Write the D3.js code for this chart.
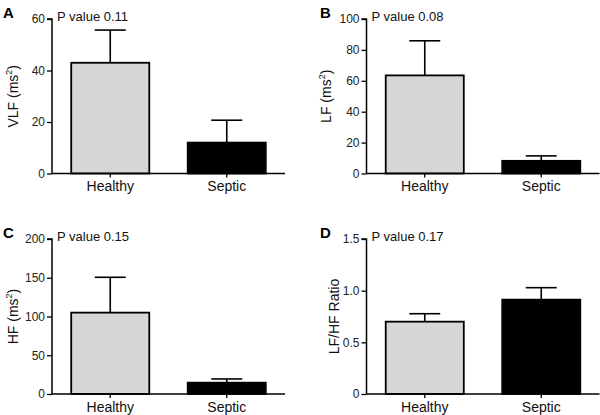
<!DOCTYPE html>
<html>
<head>
<meta charset="utf-8">
<script src="https://cdn.jsdelivr.net/npm/d3@7/dist/d3.min.js"></script>
<style>
  html, body { margin: 0; padding: 0; background: #fff; }
  svg { display: block; font-family: "Liberation Sans", Arial, Helvetica, sans-serif; }
</style>
</head>
<body>
<svg id="chart" width="600" height="415"></svg>
<script>
// ---- data ----
const categories = ["Healthy", "Septic"];
const panelLetters = ["A", "B", "C", "D"];
const pValues = ["P value 0.11", "P value 0.08", "P value 0.15", "P value 0.17"];
const yLabels = ["VLF (ms", "LF (ms", "HF (ms", "LF/HF Ratio"];
const ySuper = ["2", "2", "2", ""];

const vlfMean = [43.0, 12.0];
const vlfSem  = [12.7, 8.7];
const lfMean  = [63.5, 8.2];
const lfSem   = [22.4, 3.2];
const hfMean  = [105, 14.6];
const hfSem   = [45.6, 4.8];
const ratioMean = [0.70, 0.913];
const ratioSem  = [0.077, 0.116];

const vlfTicks = [0, 20, 40, 60];
const lfTicks = [0, 20, 40, 60, 80, 100];
const hfTicks = [0, 50, 100, 150, 200];
const ratioTicks = [0, 0.5, 1.0, 1.5];
const ratioTickLabels = ["0", "0.5", "1.0", "1.5"];

const barColors = ["#d6d6d6", "#000000"];

// ---- layout ----
const panels = [
  { letter: panelLetters[0], p: pValues[0], label: yLabels[0], sup: ySuper[0], mean: vlfMean, sem: vlfSem, ticks: vlfTicks, tickFmt: d => String(d),
    ax: 52, xEnd: 285, top: 19, bottom: 173.5, labX: 18, letX: 3, letY: 18 },
  { letter: panelLetters[1], p: pValues[1], label: yLabels[1], sup: ySuper[1], mean: lfMean, sem: lfSem, ticks: lfTicks, tickFmt: d => String(d),
    ax: 366.5, xEnd: 599.5, top: 19, bottom: 173.5, labX: 331, letX: 320, letY: 18 },
  { letter: panelLetters[2], p: pValues[2], label: yLabels[2], sup: ySuper[2], mean: hfMean, sem: hfSem, ticks: hfTicks, tickFmt: d => String(d),
    ax: 52, xEnd: 285, top: 239, bottom: 394, labX: 18, letX: 3, letY: 238 },
  { letter: panelLetters[3], p: pValues[3], label: yLabels[3], sup: ySuper[3], mean: ratioMean, sem: ratioSem, ticks: ratioTicks, tickFmt: (d, i) => ratioTickLabels[i],
    ax: 366.5, xEnd: 599.5, top: 239, bottom: 394, labX: 339, letX: 320, letY: 238 }
];

const svg = d3.select("#chart");

panels.forEach(P => {
  const g = svg.append("g");
  const yMax = P.ticks[P.ticks.length - 1];
  const y = d3.scaleLinear().domain([0, yMax]).range([P.bottom, P.top]);
  const x = d3.scaleBand().domain(categories).range([P.ax, P.xEnd]).paddingInner(0.33).paddingOuter(0.165);

  const data = categories.map((c, i) => ({ c, m: P.mean[i], s: P.sem[i], i }));

  // error bars (upper only)
  const eb = g.selectAll(".eb").data(data).enter().append("g");
  eb.append("line")
    .attr("x1", d => x(d.c) + x.bandwidth() / 2).attr("x2", d => x(d.c) + x.bandwidth() / 2)
    .attr("y1", d => y(d.m)).attr("y2", d => y(d.m + d.s))
    .attr("stroke", "#000").attr("stroke-width", 1.6);
  eb.append("line")
    .attr("x1", d => x(d.c) + x.bandwidth() / 2 - 15.5).attr("x2", d => x(d.c) + x.bandwidth() / 2 + 15.5)
    .attr("y1", d => y(d.m + d.s)).attr("y2", d => y(d.m + d.s))
    .attr("stroke", "#000").attr("stroke-width", 1.6);

  // bars
  g.selectAll(".bar").data(data).enter().append("rect")
    .attr("x", d => x(d.c))
    .attr("y", d => y(d.m))
    .attr("width", x.bandwidth())
    .attr("height", d => y(0) - y(d.m))
    .attr("fill", d => barColors[d.i])
    .attr("stroke", "#000")
    .attr("stroke-width", 1.8);

  // y axis
  const yAxis = d3.axisLeft(y).tickValues(P.ticks).tickSize(5).tickPadding(2)
    .tickFormat((d, i) => P.tickFmt(d, i));
  const ya = g.append("g").attr("transform", `translate(${P.ax},0)`).call(yAxis);
  ya.attr("font-size", null).attr("font-family", null);
  ya.select(".domain").attr("stroke", "#000").attr("stroke-width", 1.5)
    .attr("d", `M-5,${P.top}H0V${P.bottom}`);
  ya.selectAll(".tick line").attr("stroke", "#000").attr("stroke-width", 1.3);
  ya.selectAll(".tick text").style("font-size", "12px").attr("fill", "#222");

  // x axis
  const xAxis = d3.axisBottom(x).tickSize(4).tickPadding(4).tickSizeOuter(0);
  const xa = g.append("g").attr("transform", `translate(0,${P.bottom})`).call(xAxis);
  xa.attr("font-size", null).attr("font-family", null);
  xa.select(".domain").attr("stroke", "#000").attr("stroke-width", 1.5)
    .attr("d", `M${P.ax},0H${P.xEnd}`);
  xa.selectAll(".tick line").attr("stroke", "#000").attr("stroke-width", 1.3);
  xa.selectAll(".tick text").style("font-size", "14px").attr("fill", "#111")
    .attr("dy", "0.71em");

  // y label
  const yl = g.append("text")
    .attr("transform", `translate(${P.labX},${(P.top + P.bottom) / 2}) rotate(-90)`)
    .attr("text-anchor", "middle")
    .style("font-size", "14px").attr("fill", "#111");
  yl.append("tspan").text(P.label);
  if (P.sup) {
    yl.append("tspan").style("font-size", "9px").attr("dy", -6).text(P.sup);
    yl.append("tspan").attr("dy", 6).text(")");
  }

  // p value
  g.append("text").attr("x", P.ax + 5).attr("y", P.top + 1.5)
    .style("font-size", "13px").attr("fill", "#111").text(P.p);

  // panel letter
  g.append("text").attr("x", P.letX).attr("y", P.letY)
    .style("font-size", "15px").attr("font-weight", "bold").attr("fill", "#000").text(P.letter);
});
</script>
</body>
</html>
